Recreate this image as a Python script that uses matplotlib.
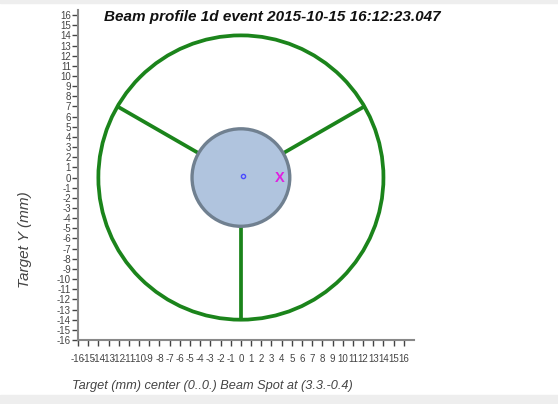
import numpy as np
import matplotlib
matplotlib.use("Agg")
import matplotlib.pyplot as plt
from matplotlib.patches import Circle, Rectangle

plt.rcParams['font.family'] = ['Liberation Sans', 'DejaVu Sans']

# data
title = "Beam profile 1d event 2015-10-15 16:12:23.047"
xlabel = "Target (mm) center (0..0.) Beam Spot at (3.3.-0.4)"
ylabel = "Target Y (mm)"
outer_radius = 14.0
inner_radius = 4.8
spoke_angles = [30, 150, 270]
center_dot = (0.2, 0.2)
beam_spot = (3.3, -0.4)
ticks = list(range(-16, 17))

fig = plt.figure(figsize=(5.58, 4.04), dpi=100)
fig.patches.append(Rectangle((0, 0), 1, 9/404, transform=fig.transFigure,
                             color='#eeeeee', zorder=0))
fig.patches.append(Rectangle((0, 1 - 3/404), 1, 3/404, transform=fig.transFigure,
                             color='#eeeeee', zorder=0))

ax = fig.add_axes([78/558, (404-340)/404, (414-78)/558, (340-10)/404])
ax.set_xlim(-16, 17)
ax.set_ylim(-16, 16.5)

green = '#1b841b'
# outer ring
ax.add_patch(Circle((0, 0), outer_radius, fill=False, ec=green, lw=2.7, zorder=2))
# spokes
for a in spoke_angles:
    t = np.deg2rad(a)
    ax.plot([inner_radius*np.cos(t), outer_radius*np.cos(t)],
            [inner_radius*np.sin(t), outer_radius*np.sin(t)],
            color=green, lw=2.7, solid_capstyle='butt', zorder=2)
# inner circle
ax.add_patch(Circle((0, 0), inner_radius, fc='#b0c4de', ec='#708090', lw=2.4, zorder=3))
ax.plot([center_dot[0]], [center_dot[1]], 'o', ms=3, mfc='none', mec='#4a4aff', mew=1, zorder=4)
ax.text(beam_spot[0], beam_spot[1], 'X', color='#e020e0', fontsize=10.5,
        fontweight='bold', ha='left', va='baseline', zorder=5)

ax.set_xticks(ticks)
ax.set_yticks(ticks)
ax.set_xticklabels([str(t) for t in ticks])
ax.set_yticklabels([str(t) for t in ticks])
ax.tick_params(axis='both', labelsize=7, colors='#444444', length=4, width=1,
               pad=1, direction='out')
ax.tick_params(axis='x', pad=6)
for s in ['top', 'right']:
    ax.spines[s].set_visible(False)
for s in ['left', 'bottom']:
    ax.spines[s].set_color('#888888')
    ax.spines[s].set_linewidth(1.5)

fig.text(272/558, 1 - 17/404, title, ha='center', va='center', fontsize=11,
         fontweight='bold', fontstyle='italic', color='#111111')
fig.text(212/558, 1 - 386/404, xlabel, ha='center', va='center', fontsize=9.2,
         fontstyle='italic', color='#444444')
fig.text(25/558, 1 - 240/404, ylabel, ha='center', va='center', fontsize=11,
         fontstyle='italic', color='#444444', rotation=90)

fig.savefig('out.png', dpi=100)
